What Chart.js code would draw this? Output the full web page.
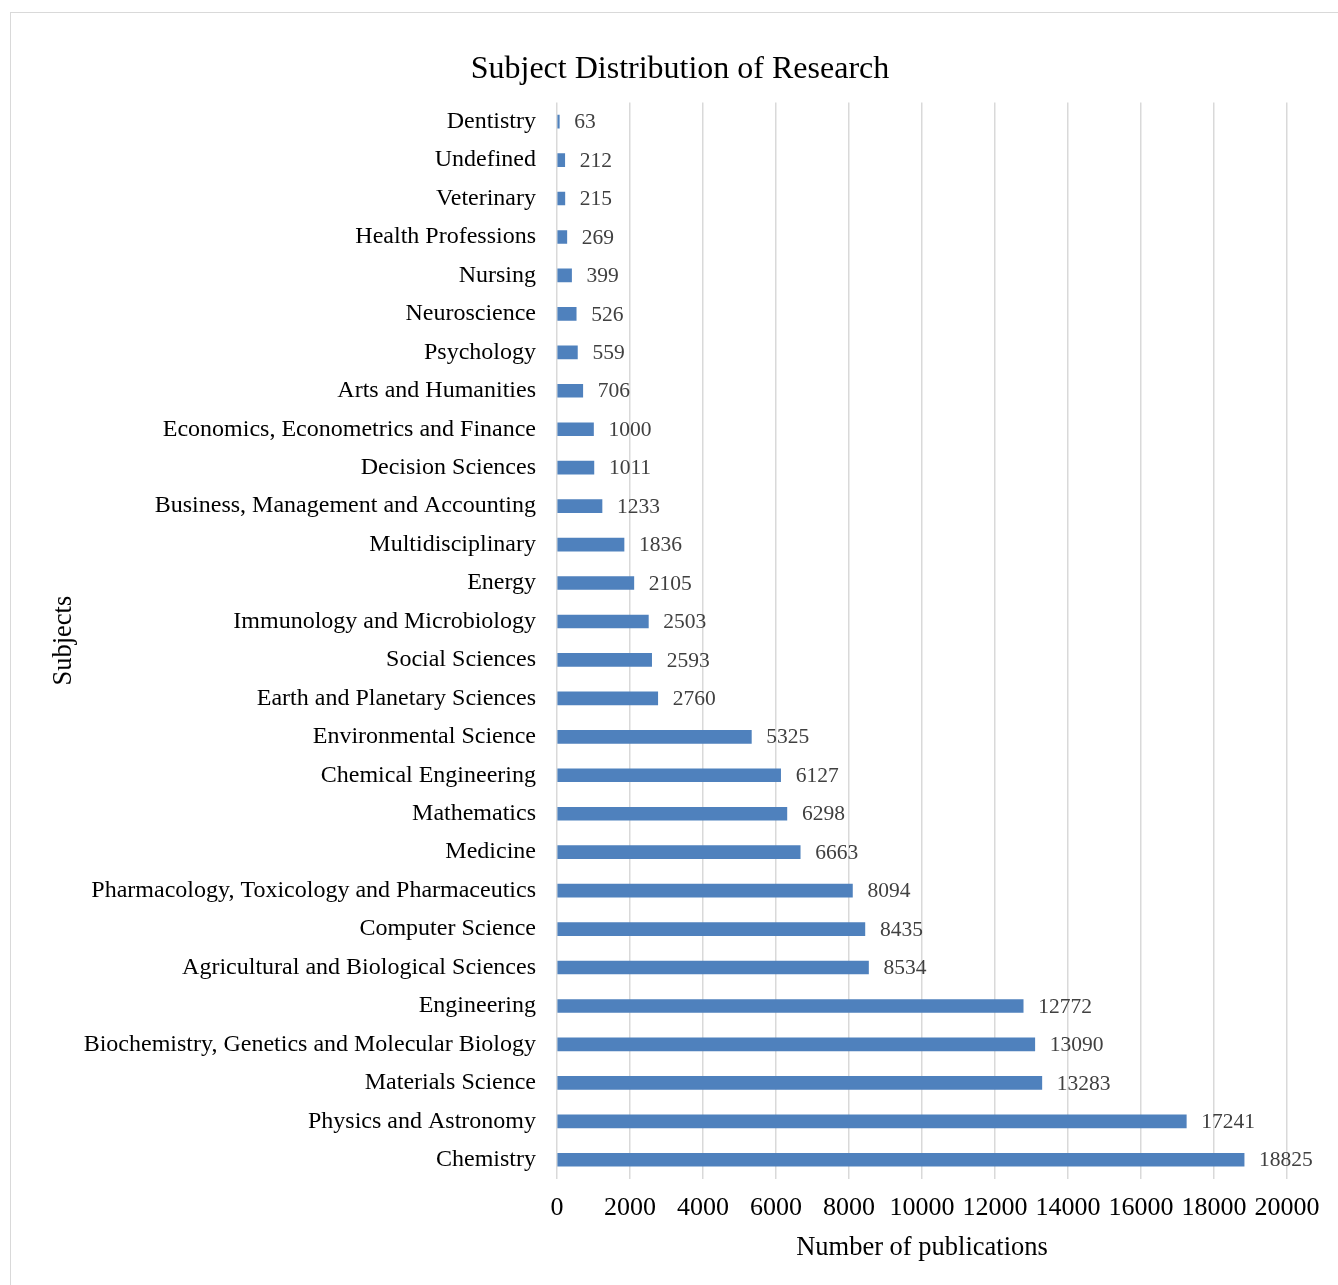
<!DOCTYPE html>
<html>
<head>
<meta charset="utf-8">
<script src="https://cdn.jsdelivr.net/npm/chart.js@4/dist/chart.umd.min.js"></script>
<style>
  html, body { margin: 0; padding: 0; background: #fff; }
  #wrap { position: relative; width: 1338px; height: 1285px; overflow: hidden; }
  #frame { position: absolute; left: 10px; top: 12px; width: 1400px; height: 1400px; border: 1px solid #d9d9d9; box-sizing: border-box; }
  canvas { position: absolute; left: 0; top: 0; }
</style>
</head>
<body>
<div id="wrap">
  <div id="frame"></div>
  <canvas id="subjectChart" width="1338" height="1285"></canvas>
</div>
<script>
const subjects = [
  'Dentistry', 'Undefined', 'Veterinary', 'Health Professions', 'Nursing',
  'Neuroscience', 'Psychology', 'Arts and Humanities',
  'Economics, Econometrics and Finance', 'Decision Sciences',
  'Business, Management and Accounting', 'Multidisciplinary', 'Energy',
  'Immunology and Microbiology', 'Social Sciences', 'Earth and Planetary Sciences',
  'Environmental Science', 'Chemical Engineering', 'Mathematics', 'Medicine',
  'Pharmacology, Toxicology and Pharmaceutics', 'Computer Science',
  'Agricultural and Biological Sciences', 'Engineering',
  'Biochemistry, Genetics and Molecular Biology', 'Materials Science',
  'Physics and Astronomy', 'Chemistry'
];
const publications = [
  63, 212, 215, 269, 399, 526, 559, 706, 1000, 1011, 1233, 1836, 2105, 2503,
  2593, 2760, 5325, 6127, 6298, 6663, 8094, 8435, 8534, 12772, 13090, 13283,
  17241, 18825
];
const xTicks = [0, 2000, 4000, 6000, 8000, 10000, 12000, 14000, 16000, 18000, 20000];

const serif = "'Liberation Serif', 'Times New Roman', serif";

// value text drawn just past the end of each bar
const barValueLabels = {
  id: 'barValueLabels',
  afterDatasetsDraw(chart) {
    const { ctx } = chart;
    const meta = chart.getDatasetMeta(0);
    ctx.save();
    ctx.font = `21.5px ${serif}`;
    ctx.fillStyle = '#404040';
    ctx.textAlign = 'left';
    ctx.textBaseline = 'middle';
    meta.data.forEach((bar, i) => {
      ctx.fillText(String(publications[i]), bar.x + 15, bar.y + 1);
    });
    ctx.restore();
  }
};

// nudge the title a bit to the right of the default centre
const titleShift = {
  id: 'titleShift',
  afterLayout(chart) {
    const t = chart.titleBlock;
    if (t) { t.left += 14; t.right += 14; }
  }
};

new Chart(document.getElementById('subjectChart'), {
  type: 'bar',
  data: {
    labels: subjects,
    datasets: [{
      data: publications,
      backgroundColor: '#4f81bd',
      borderWidth: 0,
      barThickness: 13
    }]
  },
  options: {
    indexAxis: 'y',
    responsive: false,
    animation: false,
    layout: { padding: { left: 45, right: 51, top: 30, bottom: 20 } },
    plugins: {
      legend: { display: false },
      tooltip: { enabled: false },
      title: {
        display: true,
        text: 'Subject Distribution of Research',
        color: '#000',
        font: { family: serif, size: 32, weight: 'normal' },
        padding: { top: 20, bottom: 14 }
      }
    },
    scales: {
      x: {
        min: 0,
        max: 20000,
        afterBuildTicks(scale) {
          scale.ticks = xTicks.map(v => ({ value: v }));
        },
        afterFit(scale) { scale.height = 86; },
        grid: { color: '#d9d9d9', lineWidth: 1.5, drawTicks: false },
        border: { display: false },
        ticks: {
          color: '#000',
          padding: 14,
          maxRotation: 0,
          autoSkip: false,
          font: { family: serif, size: 26 },
          callback: v => String(v)
        },
        title: {
          display: true,
          text: 'Number of publications',
          color: '#000',
          font: { family: serif, size: 26.5 },
          padding: { top: 0, bottom: 1 }
        }
      },
      y: {
        afterFit(scale) { scale.width = 512; },
        grid: { display: false, drawTicks: false },
        border: { display: false },
        ticks: {
          color: '#000',
          padding: 21,
          autoSkip: false,
          font: { family: serif, size: 24 }
        },
        title: {
          display: true,
          text: 'Subjects',
          color: '#000',
          font: { family: serif, size: 26.5 },
          padding: { top: 3, bottom: 0 }
        }
      }
    }
  },
  plugins: [barValueLabels, titleShift]
});
</script>
</body>
</html>
